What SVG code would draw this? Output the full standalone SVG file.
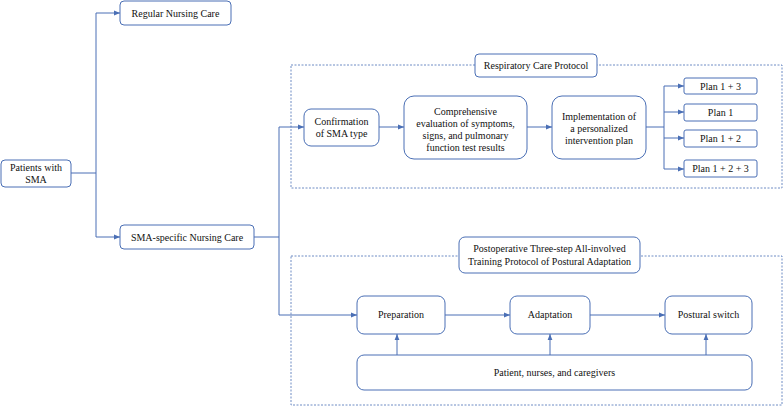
<svg xmlns="http://www.w3.org/2000/svg" width="784" height="408" viewBox="0 0 784 408">
<defs>
<marker id="a" viewBox="0 0 10 10" refX="10" refY="5" markerWidth="6" markerHeight="6" orient="auto"><path d="M0,1 L10,5 L0,9 z" fill="#4a6fb5"/></marker>
<style>
.b{fill:#fff;stroke:#4a6fb5;stroke-width:1}
.d{fill:none;stroke:#4a6fb5;stroke-width:0.8;stroke-dasharray:2,1.5}
.c{fill:none;stroke:#4a6fb5;stroke-width:1}
.t{font-family:"Liberation Serif",serif;font-size:10px;fill:#111;text-anchor:middle}
</style>
</defs>
<rect width="784" height="408" fill="#fff"/>
<rect class="d" x="291" y="65" width="491" height="123"/>
<rect class="d" x="291" y="256" width="491" height="149"/>
<g id="connectors">
<path class="c" d="M71,173 H96 M96,13 V237"/>
<path class="c" d="M96,13 H120" marker-end="url(#a)"/>
<path class="c" d="M96,237 H120" marker-end="url(#a)"/>
<path class="c" d="M254,237 H279 M279,127 V315"/>
<path class="c" d="M279,127 H304" marker-end="url(#a)"/>
<path class="c" d="M279,315 H357" marker-end="url(#a)"/>
<path class="c" d="M379,127 H404" marker-end="url(#a)"/>
<path class="c" d="M527,127 H552" marker-end="url(#a)"/>
<path class="c" d="M646,127 H664 M664,86 V169"/>
<path class="c" d="M664,86 H684" marker-end="url(#a)"/>
<path class="c" d="M664,112 H684" marker-end="url(#a)"/>
<path class="c" d="M664,138 H684" marker-end="url(#a)"/>
<path class="c" d="M664,169 H684" marker-end="url(#a)"/>
<path class="c" d="M445,315 H510" marker-end="url(#a)"/>
<path class="c" d="M590,315 H665" marker-end="url(#a)"/>
<path class="c" d="M397,355 V334" marker-end="url(#a)"/>
<path class="c" d="M550,355 V334" marker-end="url(#a)"/>
<path class="c" d="M706,355 V334" marker-end="url(#a)"/>
</g>
<g id="patients"><rect class="b" x="1" y="160" width="70" height="27" rx="4"/><text class="t" x="36" y="171">Patients with</text><text class="t" x="36" y="183">SMA</text></g>
<g id="regular"><rect class="b" x="120" y="1" width="111" height="24" rx="4"/><text class="t" x="175.5" y="17">Regular Nursing Care</text></g>
<g id="specific"><rect class="b" x="120" y="225" width="134" height="24" rx="4"/><text class="t" x="187" y="241">SMA-specific Nursing Care</text></g>
<g id="resp-title"><rect class="b" x="475" y="54" width="122" height="23" rx="4"/><text class="t" x="536" y="69">Respiratory Care Protocol</text></g>
<g id="confirm"><rect class="b" x="304" y="109" width="75" height="37" rx="7"/><text class="t" x="341.5" y="125">Confirmation</text><text class="t" x="341.5" y="137">of SMA type</text></g>
<g id="eval"><rect class="b" x="404" y="96" width="123" height="63" rx="10"/><text class="t" x="465.5" y="115">Comprehensive</text><text class="t" x="465.5" y="127">evaluation of symptoms,</text><text class="t" x="465.5" y="139">signs, and pulmonary</text><text class="t" x="465.5" y="151">function test results</text></g>
<g id="impl"><rect class="b" x="552" y="96" width="94" height="63" rx="10"/><text class="t" x="599" y="120">Implementation of</text><text class="t" x="599" y="132">a personalized</text><text class="t" x="599" y="144">intervention plan</text></g>
<g id="p13"><rect class="b" x="684" y="78" width="73" height="16" rx="2"/><text class="t" x="720.5" y="90">Plan 1 + 3</text></g>
<g id="p1"><rect class="b" x="684" y="104" width="73" height="17" rx="2"/><text class="t" x="720.5" y="116">Plan 1</text></g>
<g id="p12"><rect class="b" x="684" y="130" width="73" height="17" rx="2"/><text class="t" x="720.5" y="142">Plan 1 + 2</text></g>
<g id="p123"><rect class="b" x="684" y="160" width="73" height="17" rx="2"/><text class="t" x="720.5" y="172">Plan 1 + 2 + 3</text></g>
<g id="post-title"><rect class="b" x="459" y="237" width="181" height="36" rx="6"/><text class="t" x="549.5" y="252">Postoperative Three-step All-involved</text><text class="t" x="549.5" y="265">Training Protocol of Postural Adaptation</text></g>
<g id="prep"><rect class="b" x="357" y="296" width="88" height="38" rx="7"/><text class="t" x="401" y="318">Preparation</text></g>
<g id="adapt"><rect class="b" x="510" y="296" width="80" height="38" rx="7"/><text class="t" x="550" y="318">Adaptation</text></g>
<g id="switch"><rect class="b" x="665" y="296" width="87" height="38" rx="7"/><text class="t" x="708.5" y="318">Postural switch</text></g>
<g id="people"><rect class="b" x="357" y="355" width="395" height="35" rx="7"/><text class="t" x="554.5" y="376">Patient, nurses, and caregivers</text></g>
</svg>
